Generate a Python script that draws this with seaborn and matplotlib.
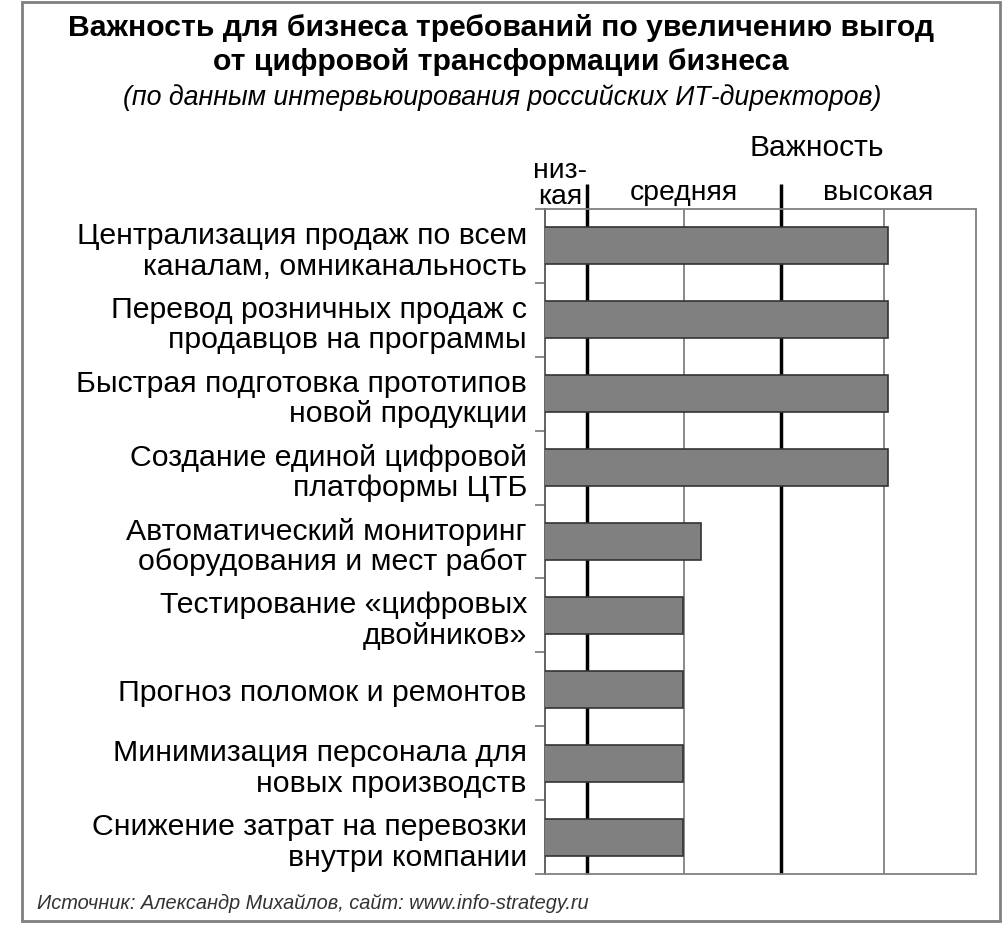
import matplotlib
matplotlib.use("Agg")
import matplotlib.pyplot as plt
import seaborn as sns
import pandas as pd
from matplotlib.patches import Rectangle

sns.set_theme(style="white")
plt.rcParams['font.family'] = ['Liberation Sans', 'DejaVu Sans']
plt.rcParams['text.color'] = 'black'

categories = [
    "Централизация продаж по всем\nканалам, омниканальность",
    "Перевод розничных продаж с\nпродавцов на программы",
    "Быстрая подготовка прототипов\nновой продукции",
    "Создание единой цифровой\nплатформы ЦТБ",
    "Автоматический мониторинг\nоборудования и мест работ",
    "Тестирование «цифровых\nдвойников»",
    "Прогноз поломок и ремонтов",
    "Минимизация персонала для\nновых производств",
    "Снижение затрат на перевозки\nвнутри компании",
]
values = [4.1, 4.1, 4.1, 4.1, 2.18, 1.99, 1.99, 1.99, 1.99]
zone_labels = ["низ-\nкая", "средняя", "высокая"]
zone_bounds = [1.0, 3.0]
thin_grid = [2.0, 4.06]

df = pd.DataFrame({"cat": categories, "val": values})

W, H = 1002, 928
fig = plt.figure(figsize=(W / 100, H / 100), dpi=100)

def px(x, y):
    return x / W, 1 - y / H

L, R, T, B = 545, 976, 210, 875
ax = fig.add_axes([L / W, 1 - B / H, (R - L) / W, (B - T) / H])

sns.barplot(data=df, x="val", y="cat", orient="h", color="#808080",
            saturation=1, width=0.5, edgecolor="#333333", linewidth=1.2, ax=ax, zorder=3)

ax.set_xlim(0.573, 5.0)
ax.set_ylim(len(categories) - 0.5, -0.5)
ax.set_xlabel("")
ax.set_ylabel("")
ax.set_xticks([])

for g in thin_grid:
    ax.axvline(g, color="#808080", lw=1.3, zorder=1)
for z in zone_bounds:
    ax.plot([z, z], [len(categories) - 0.5, -0.5 - 0.0376 * len(categories)],
            color="black", lw=2.5, clip_on=False, zorder=2, solid_capstyle="butt")

for s in ["top", "bottom", "right"]:
    ax.spines[s].set_color("#808080")
    ax.spines[s].set_linewidth(1.3)
ax.spines["left"].set_color("#555555")
ax.spines["left"].set_linewidth(1.3)

ax.set_yticks(range(len(categories)))
ax.set_yticklabels(categories, fontsize=21.8, linespacing=1.12, ha="right", color="black")
ax.tick_params(axis="y", which="major", length=0, pad=13)
ax.set_yticks([i - 0.5 for i in range(len(categories) + 1)], minor=True)
ax.tick_params(axis="y", which="minor", length=7, width=1.3, color="#808080", left=True)

# Titles
fig.text(*px(501, 28), "Важность для бизнеса требований по увеличению выгод",
         ha="center", va="center", fontsize=21.7, fontweight="bold")
fig.text(*px(501, 62), "от цифровой трансформации бизнеса",
         ha="center", va="center", fontsize=21.7, fontweight="bold")
fig.text(*px(502, 98), "(по данным интервьюирования российских ИТ-директоров)",
         ha="center", va="center", fontsize=19.3, fontstyle="italic")

fig.text(*px(817, 148), "Важность", ha="center", va="center", fontsize=21.6)
fig.text(*px(560, 184), zone_labels[0], ha="center", va="center", fontsize=20.4, linespacing=1.0)
fig.text(*px(684, 193), zone_labels[1], ha="center", va="center", fontsize=20.4)
fig.text(*px(878, 193), zone_labels[2], ha="center", va="center", fontsize=20.4)

fig.text(*px(37, 903), "Источник: Александр Михайлов, сайт: www.info-strategy.ru",
         ha="left", va="center", fontsize=14.4, fontstyle="italic", color="#333333")

fig.patches.append(Rectangle(px(22, 922), (1000 - 22) / W, (922 - 3) / H,
                             transform=fig.transFigure, fill=False,
                             edgecolor="#808080", lw=2))

fig.savefig("out.png", dpi=100)
